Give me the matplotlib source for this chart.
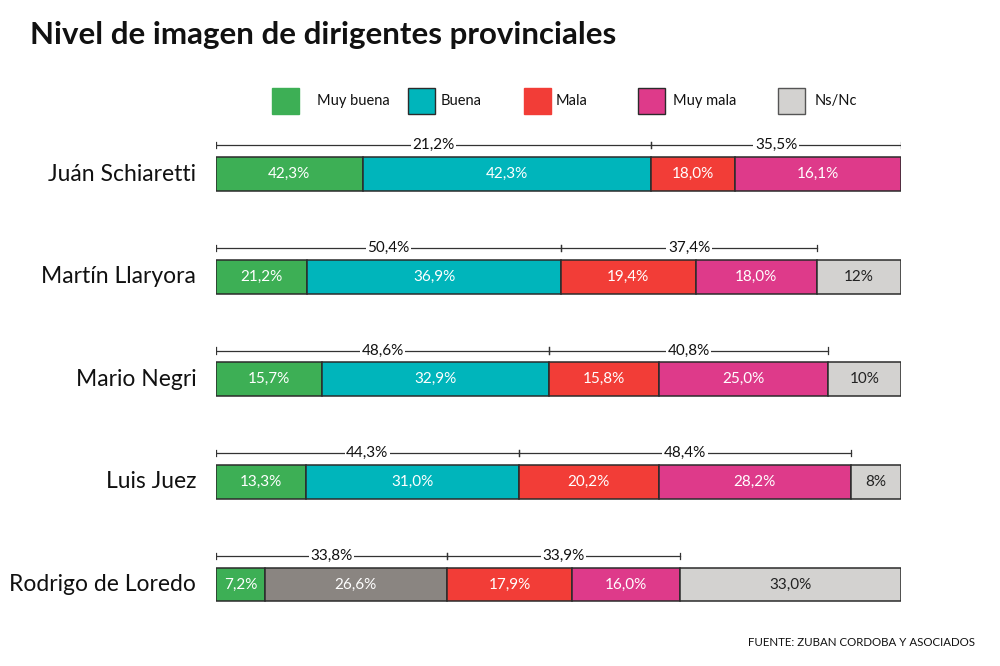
import matplotlib.pyplot as plt

plt.rcParams['font.family'] = ['Lato', 'DejaVu Sans']

title = "Nivel de imagen de dirigentes provinciales"
source = "FUENTE: ZUBAN CORDOBA Y ASOCIADOS"

names = ["Juán Schiaretti", "Martín Llaryora", "Mario Negri", "Luis Juez", "Rodrigo de Loredo"]
categories = ["Muy buena", "Buena", "Mala", "Muy mala", "Ns/Nc"]

# segment widths as drawn in the picture (share of the bar, per row)
muy_buena = [21.4, 13.3, 15.5, 13.2, 7.1]
buena = [42.1, 37.1, 33.1, 31.0, 26.6]
mala = [12.3, 19.6, 16.0, 20.4, 18.3]
muy_mala = [24.2, 17.7, 24.8, 28.1, 15.8]
ns_nc = [0.0, 12.3, 10.6, 7.3, 32.2]

# printed labels inside each segment
labels_muy_buena = ["42,3%", "21,2%", "15,7%", "13,3%", "7,2%"]
labels_buena = ["42,3%", "36,9%", "32,9%", "31,0%", "26,6%"]
labels_mala = ["18,0%", "19,4%", "15,8%", "20,2%", "17,9%"]
labels_muy_mala = ["16,1%", "18,0%", "25,0%", "28,2%", "16,0%"]
labels_ns_nc = ["", "12%", "10%", "8%", "33,0%"]

# bracket totals above each bar (positive / negative)
positive = ["21,2%", "50,4%", "48,6%", "44,3%", "33,8%"]
negative = ["35,5%", "37,4%", "40,8%", "48,4%", "33,9%"]

palette = ["#3daf55", "#00b5bb", "#f23d37", "#de3a8a", "#d3d2d0"]
text_colors = ["white", "white", "white", "white", "#222222"]
odd_color = "#8a8581"  # Buena segment for the last row is drawn grey

series = [muy_buena, buena, mala, muy_mala, ns_nc]
series_labels = [labels_muy_buena, labels_buena, labels_mala, labels_muy_mala, labels_ns_nc]

fig = plt.figure(figsize=(10, 6.66), dpi=100)
ax = fig.add_axes([0.216, 0.030, 0.685, 0.801])
ax.set_xlim(0, 100)
ax.set_ylim(4.6, -0.6)
ax.axis('off')

bar_h = 0.33
for i, name in enumerate(names):
    left = 0
    for k, vals in enumerate(series):
        w = vals[i]
        if w <= 0:
            continue
        color = palette[k]
        if i == len(names) - 1 and k == 1:
            color = odd_color
        ax.barh(i, w, left=left, height=bar_h, color=color,
                edgecolor="#2b2b2b", linewidth=1.1)
        ax.text(left + w / 2, i, series_labels[k][i], ha='center', va='center',
                fontsize=11, color=text_colors[k])
        left += w

    ax.text(-2.9, i, name, ha='right', va='center', fontsize=16.5,
            color="#111111", clip_on=False)

    # brackets
    p_end = muy_buena[i] + buena[i]
    n_end = p_end + mala[i] + muy_mala[i]
    yb = i - 0.28
    for x0, x1, lab in [(0, p_end, positive[i]), (p_end, n_end, negative[i])]:
        ax.plot([x0, x1], [yb, yb], color="#333333", lw=0.9)
        ax.plot([x0, x0], [yb - 0.03, yb + 0.03], color="#333333", lw=0.9)
        ax.plot([x1, x1], [yb - 0.03, yb + 0.03], color="#333333", lw=0.9)
        ax.text((x0 + x1) / 2, yb, lab, ha='center', va='center', fontsize=11,
                color="#111111",
                bbox=dict(facecolor='white', edgecolor='none', pad=1.2))

# legend
leg_x = [0.272, 0.408, 0.524, 0.638, 0.778]
leg_tx = [0.317, 0.441, 0.556, 0.673, 0.815]
edges = ["#3daf55", "#2b2b2b", "#f23d37", "#2b2b2b", "#555555"]
for k, cat in enumerate(categories):
    fig.patches.append(plt.Rectangle((leg_x[k], 1 - 114 / 666), 0.027, 26 / 666,
                                     transform=fig.transFigure, facecolor=palette[k],
                                     edgecolor=edges[k], linewidth=1.0))
    fig.text(leg_tx[k], 1 - 101 / 666, cat, ha='left', va='center', fontsize=10.5,
             color="#111111")

fig.text(0.030, 1 - 35 / 666, title, ha='left', va='center', fontsize=22.5,
         fontweight='bold', color="#111111")
fig.text(0.975, 1 - 642 / 666, source, ha='right', va='center', fontsize=8.3,
         color="#111111")

fig.savefig("out.png", dpi=100)
